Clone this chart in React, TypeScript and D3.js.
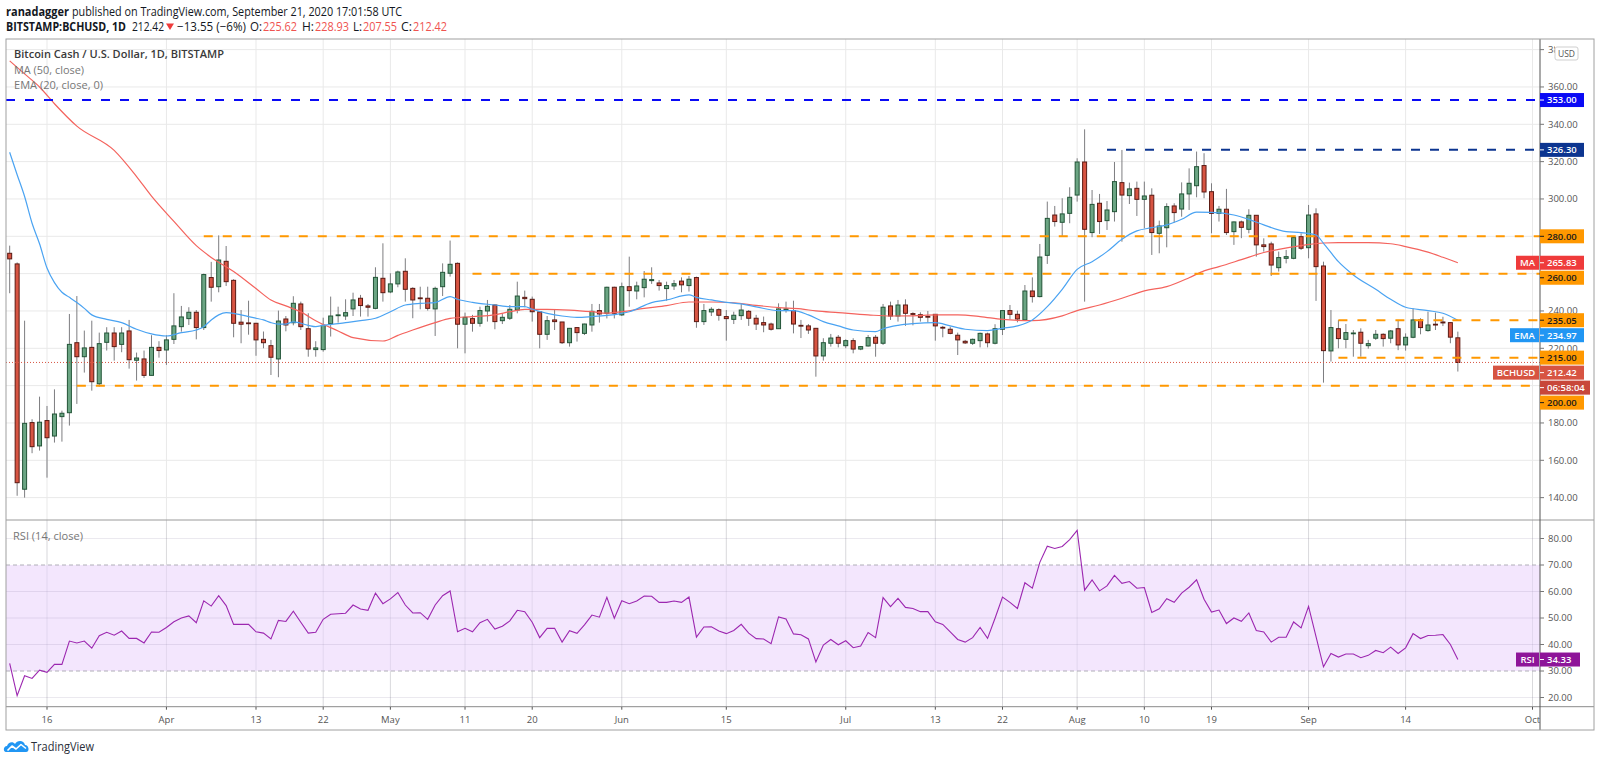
import React from 'react';
import * as d3 from 'd3';

// ---------------- DATA ----------------
const START_DATE = '2020-03-11';
const LAST_PRICE_LABEL = 'BCHUSD';
const COUNTDOWN = '06:58:04';

const opens = [270.9,265.2,144.5,180.2,167.7,181.3,173,183.4,185.5,223,215.5,220.5,201,223.2,228.2,222.1,229.3,213.6,214.3,205.5,220.5,219.1,224.8,231.6,235.9,239.3,231.1,257.9,253,266.6,256.4,234,233.6,233.4,224.8,221.4,214.3,235.7,233.7,243.75,230.5,219.3,219.3,233.2,237.5,237.3,241.1,246.8,242.7,241.4,257.5,250.2,254.5,261.25,252.1,247,246.8,241.1,253,260.2,265.5,232.9,235.9,233.4,240,243.2,234.8,236.1,240.5,247.3,246.25,239.5,227.5,235.2,234.1,223,231.1,228,232.5,240.2,238.75,252.7,237.9,253,250.7,252.5,256.25,255,252,253.4,256,253.6,257.9,234.3,239.5,240.7,237,235.5,237.5,239.8,236.1,233.75,233,230.5,240.5,240.2,232.3,232,230.7,215.9,222.7,225.9,221.4,224.1,219.6,221.25,225.9,222.7,242.7,237.3,243.2,238.6,238,237.1,238.2,231.25,230.2,227,223.75,222.7,224.1,227.7,222.7,230.2,240.2,238.2,235.2,250.7,247.7,269.8,291.4,287.5,292.3,302.1,319.8,282,297.7,288.4,293.2,308.75,301.8,305.7,299.8,302,281.6,284.6,296.25,294.6,302.7,307.1,317.9,303.9,292.3,294.5,282.5,287.7,283.75,291.25,275.4,275.9,263.2,268.2,268.2,279.8,273.9,292,264.1,218.6,230.5,224.8,227.9,228.6,221.4,225.4,227.5,225.4,230.5,221.8,225.9,235.2,229.5,232.9,234.1,233.75,225.62];
const highs = [275,266,234.8,182,194.1,189.1,198,186.6,238.4,248,229.5,234.8,228.4,231.3,231.3,231.3,235.2,217.7,218.8,227,223.8,227,249.5,242.7,242,240.5,260,266.3,280.5,274.8,257,240.5,245.5,233.6,229,224.5,240.2,237.3,247.9,245,238.8,223.8,236.4,247.7,242.3,246.25,249.8,248.6,243.75,263.4,276.25,260.2,261.6,268.2,252.7,253,253,253,265.5,277.7,266,239.1,237.9,242.3,245.9,243.4,238.75,243.2,255.7,250.9,247.7,239.5,237.3,240.5,234.1,230.9,231.1,233.2,243.75,243.75,253,253,255.2,269.1,255.7,261.4,263.4,256.6,255.7,256.6,258,258.75,258.4,243.75,242,241.4,240.5,239.6,243.75,240.5,237.9,237,233.75,244.1,245,245.5,235.2,233,230.9,225.4,227.7,227.1,224.8,225.4,221.25,227.1,227.1,243.75,245,245.9,246.25,239.3,239.3,240,238.2,232,231.6,228.4,224.5,225.2,228.4,228.4,232.9,240.2,243.2,240.2,253.9,258,275.9,298.6,296.25,300.4,306.25,321.8,337.3,304.8,302.7,298.9,319.8,326.25,308.75,309.3,309.3,305.7,288.4,297.7,297.7,308.9,316.4,325.4,324.5,308.4,296.25,305.4,287.9,288.4,294.5,291.25,278.9,277.1,271.8,272.7,279.8,281.6,296.8,295,266.4,240.5,235.2,233,229.8,230.7,224.5,229.8,228,229.8,235.2,228,241.4,236.1,239.6,239.1,236.9,234,228.93];
const lows = [249.5,141,140,163.8,165.2,150.7,169.5,170,178.6,190.2,207,197.3,199.5,218.8,213.4,217.9,209.1,202.7,204.1,205.5,215,211.1,222.3,228.9,232.5,224.8,229.8,245,250,253.4,225.9,222.7,227.3,216,220,205.7,204.5,229.1,232.3,229.8,215.5,215.5,218.2,226.3,233.75,235.2,237.3,237,237,240.9,245,249.5,252.7,245,236.1,240.9,240.2,226.6,248,258.4,220,217.3,228.9,231.6,234.3,230.2,233,235.2,238.75,242,234.3,220,224.5,229.8,222.3,220.9,223.6,227.1,228.9,233.75,236,236,237.3,242.3,246.25,247.3,254.5,250.9,245.5,251.25,250,250.4,231,232.5,237.3,234.8,224.1,233,235.2,232,229.8,228.6,229.5,230.5,239.1,228,225.5,227.7,204.8,213.4,220.9,220.5,220,217.3,219,220.9,215.5,221.8,235.2,234.3,232,232.3,234.3,233.75,224.1,225.9,227.5,216.4,222.3,221.8,220.5,220.5,222.1,227.1,235.5,233.9,235.2,244.5,247.3,265.2,285.2,280.2,287,298.6,245,279.5,281.25,283.4,287.9,277.1,297.3,290.9,284.3,270,270.9,274.1,287.3,290.5,294.1,300.9,300.4,281.6,287.9,280.7,275.4,279,281.6,269.1,271.8,258.75,261.1,265.5,267.7,272.7,268.2,245.4,201.6,212.9,220,220,215.5,215.5,219.8,224.5,220.9,222.7,219,218.75,225.4,227.5,228.9,229.8,231.9,222.7,207.55];
const closes = [267.9,148,179.8,167.3,180.4,172.1,184.8,185.2,222.1,215.5,220.2,202.1,222.5,228.2,220.9,228.2,213.9,214.8,205.5,220.5,218.8,224.5,232,236.8,239.3,231.1,259.5,252.7,267.3,255.7,233.4,232.9,233.2,224.5,223,215.2,234.6,232.5,244.1,231.6,219.6,220.2,232.3,237.3,237.9,239.1,245.9,242.9,242,258,249.8,254.5,260.9,251.6,245.9,246.6,241.4,252.1,260.7,265,232.9,236.6,233.4,240.2,242.5,234.3,236.6,240.9,248,246.6,239.6,227.5,234.8,234.3,223,230.7,228.4,233,239.8,238.4,252.7,238.75,253,250.9,253.4,257,256.8,253.6,253.6,254.6,254,257,234.3,240.2,240.9,237.7,235.9,237.7,240.5,236.1,233,232.5,230.2,241.1,241.1,233,232,229.8,215.9,223,225.5,222.7,224.1,219.6,220.9,225.7,222.7,242,237.3,243.2,238.75,238.2,236.6,236.8,232,230.9,228,224.5,222.9,224.8,228,223,230.5,240.2,238.2,235.7,250.7,247.7,268.9,289.6,287.9,292,300.9,319.8,283.75,297.1,287.9,294.1,309.3,302.1,305.4,299.8,301.6,282,285.5,295.9,292.7,302.7,308.4,317.3,303.75,292.3,294.5,282,287.7,284.8,291.25,275.4,274.5,264.6,268.6,269.1,279.3,273.6,291.4,263.75,218.75,231.1,225.2,228.4,228.2,222.7,222.5,227.5,225.2,229.3,221.8,225.9,235.2,231.1,232.5,232.7,233.6,225.97,212.42];

const rsiValues = [32.9,20.7,28.2,27.2,30.3,29.5,32.5,32.5,41.3,40.6,41.3,38.6,43.3,44.6,43.5,45.1,42.3,42.3,40.6,44.7,44.6,46.4,48.6,50,50.8,48.2,56.5,54.5,58.4,54.7,47.6,47.6,47.6,44.8,44.3,42.1,49.1,48.7,52.6,48.4,44.3,44.6,49.5,51.4,51.6,51.8,54.9,53.4,52.9,59.4,55.4,57.2,59.6,54.9,51.9,52,49.5,54.9,58.4,60.2,44.8,46.1,44.8,48.2,49.5,45.8,46.9,48.9,52.9,52.4,48.4,42.6,46.1,46.1,40.9,45.2,44.2,47.4,51.1,50.3,57.8,49.9,56.5,55.4,56.4,58.3,58.2,55.9,55.9,56.4,55.9,57.9,42.8,46.6,46.7,45.1,44.1,45.3,47.6,44.3,42.2,42.1,40.3,50.4,49.6,44,43.7,42.1,33.4,39.8,41.9,39.9,41.4,38.8,39.4,44.5,42.6,57.7,54.3,57.4,54,53.6,52.4,52.4,48.6,47.6,44.8,41.9,40.9,42.6,46.4,42.3,49.9,57.9,55.9,53.6,63.3,61.25,71,77.1,76.25,77,79.6,83.1,60.5,64.4,60.25,62.1,66.1,63.1,63.75,61.25,61.5,52.1,53.5,57.25,55.9,59.4,61.6,64.4,57.1,52.25,53,47.9,50,48.75,51.9,45.25,44.75,40.9,42.75,42.75,48.5,46.25,54.4,43,31.6,36.6,35.25,36.4,36.4,35,35.9,37.75,36.9,39,36.6,38.75,44.1,42.25,43.4,43.5,43.75,40,34.33];

// MA(50): day offset from START_DATE, value
const maDays = [0,2,4,6,9,14,17,19,22,25,27,30,33,35,37,39,41,44,46,50,52,54,57,59,62,65,67,69,72,75,78,80,82,85,88,91,94,97,100,103,106,108,111,115,118,121,124,127,130,133,137,141,143,146,149,152,155,158,160,162,165,168,170,173,176,178,182,185,187,190,192,194];
const maValues = [374,367,360,351,339,326,312,301.5,288,275,268.7,261.1,252,245.9,242.7,239.5,234.8,229.3,225.7,223.9,226.9,229.8,233.75,236,237,237.9,239.6,240.8,240.9,240.5,239.6,238.8,239.6,241.4,242.9,244.8,244.8,244.4,243,241.8,241.1,240,239.1,237.9,237.3,237.4,237.9,237.9,237,235.5,234.8,237.4,240.2,243.2,246.8,250.8,253,257.8,261.5,263.75,267.5,271.3,273,275,276.4,276.6,276.6,276,274.5,271.5,268.75,265.83];

// EMA(20)
const emaDays = [0,1,2,3,4,5,6,7,8,9,10,11,13,15,17,19,21,23,25,26,27,28,29,30,31,32,33,34,35,36,37,38,40,41,42,44,45,47,49,51,53,55,57,59,60,62,65,67,69,70,72,74,76,78,80,82,83,86,88,91,92,94,96,98,100,103,105,107,109,111,113,116,117,119,121,124,126,128,131,133,135,137,139,141,143,145,147,149,151,153,155,157,159,161,164,166,168,171,173,175,176,178,180,183,185,187,190,192,194];
const emaValues = [325,313,301.3,287,276,263,255.2,250,247.3,244.5,241.4,237.9,235.5,233.75,230.2,227.7,226.6,228.4,229.8,231.6,235.2,237.9,239.1,238.75,237.9,237,236.1,235.2,233.75,233,233,234.2,232.3,231.6,232.3,233.2,233.75,234.8,236.1,239.6,243.2,244.1,244.5,247.7,246.25,244.6,243.2,242.3,242.3,240.9,238.75,237.3,236.6,237,237.6,238.75,239.6,244.5,245.9,248.6,247.3,245.9,244.6,243.75,242.2,240.2,240.2,237.9,234.3,232,229.8,228.9,230.5,232.3,233.2,233.75,232,230.2,229.5,230.7,232,235.2,242.3,251.6,262.3,266.4,271.8,278.4,282.9,284.6,286.1,289.1,292.9,292.8,291.4,289.1,286.1,282.5,282,280.7,276.25,266.4,259.3,251.6,246.25,242,240.2,238.75,234.97];

const priceTicks = [140,160,180,200,220,240,260,280,300,320,340,360,380];
const rsiTicks = [20,30,40,50,60,70,80];
const rsiBand = [30,70];
const timeTickDates = ['2020-03-16','2020-04-01','2020-04-13','2020-04-22','2020-05-01','2020-05-11','2020-05-20','2020-06-01','2020-06-15','2020-07-01','2020-07-13','2020-07-22','2020-08-01','2020-08-10','2020-08-19','2020-09-01','2020-09-14','2020-10-01'];
const timeTickLabels = ['16','Apr','13','22','May','11','20','Jun','15','Jul','13','22','Aug','10','19','Sep','14','Oct'];

// horizontal drawings
const levelValues = [353,326.3,280,260,235.05,215,200];
const levelStarts = ['','2020-08-05','2020-04-06','2020-05-12','2020-09-05','2020-09-05','2020-03-20'];
const levelKinds = ['blue','navy','orange','orange','orange','orange','orange'];

// ---------------- STYLE ----------------
const FONT = "'Open Sans', 'Noto Sans', 'DejaVu Sans', sans-serif";
const UP = '#6ba583', UP_B = '#225437', DN = '#d75442', DN_B = '#5b1a13', WICK = '#7d7d80';
const KIND_COLOR: Record<string, string> = { blue: '#0a0af5', navy: '#0c3590', orange: '#ff9800' };
const GRID = '#e9e9e9';

const parse = d3.utcParse('%Y-%m-%d');

export default function App() {
  const W = 1600, H = 763;
  const L = 6, R = 1540, MT = 39, MB = 520, RB = 706.7, AB = 730, FR = 1594;

  const x = d3.scaleUtc().domain([parse('2020-03-16')!, parse('2020-10-01')!]).range([47, 1532.5]);
  const y = d3.scaleLinear().domain([160, 340]).range([460.3, 124.3]);
  const ry = d3.scaleLinear().domain([30, 70]).range([671, 565]);
  const start = parse(START_DATE)!;
  const dayX = (i: number) => x(d3.utcDay.offset(start, i));

  const candles = opens.map((o, i) => ({ i, o, h: highs[i], l: lows[i], c: closes[i] }));

  const maLine = d3.line<number>().x((_, k) => dayX(maDays[k])).y(v => y(v)).curve(d3.curveMonotoneX)(maValues) || '';
  const emaLine = d3.line<number>().x((_, k) => dayX(emaDays[k])).y(v => y(v)).curve(d3.curveMonotoneX)(emaValues) || '';
  const rsiLine = d3.line<number>().x((_, k) => dayX(k)).y(v => ry(v))(rsiValues) || '';

  const lastClose = closes[closes.length - 1];
  const lastMA = maValues[maValues.length - 1];
  const lastEMA = emaValues[emaValues.length - 1];
  const lastRSI = rsiValues[rsiValues.length - 1];

  // right-axis label boxes, with overlap avoidance
  type Lab = { v: number; text: string; fill: string; txt: string; name?: string; w?: number; nameW?: number; y: number };
  const labs: Lab[] = [];
  levelValues.forEach((v, k) => labs.push({ v, text: v.toFixed(2), fill: KIND_COLOR[levelKinds[k]], txt: levelKinds[k] === 'orange' ? '#1a1a1a' : '#fff', y: y(v) }));
  labs.push({ v: lastMA, text: lastMA.toFixed(2), fill: '#ef3b3b', txt: '#fff', name: 'MA', nameW: 23, y: y(lastMA) });
  labs.push({ v: lastEMA - 0.001, text: lastEMA.toFixed(2), fill: '#2196f3', txt: '#fff', name: 'EMA', nameW: 29, y: y(lastEMA) });
  labs.push({ v: lastClose, text: lastClose.toFixed(2), fill: DN, txt: '#fff', name: LAST_PRICE_LABEL, nameW: 46, y: y(lastClose) });
  labs.push({ v: lastClose - 0.0001, text: COUNTDOWN, fill: '#c8473a', txt: '#fff', w: 50, y: y(lastClose) + 15 });
  labs.sort((a, b) => b.v - a.v);
  for (let k = 1; k < labs.length; k++) {
    if (labs[k].y < labs[k - 1].y + 15) labs[k].y = labs[k - 1].y + 15;
  }
  // tick labels fully hidden behind a label box are not drawn (as on the reference)
  const visibleTicks = priceTicks.filter(p => !labs.some(lb => Math.abs(lb.y - y(p)) < 7.5));

  const tickDates = timeTickDates.map(s => parse(s)!);

  return (
    <div style={{ position: 'absolute', left: 0, top: 0, width: W, height: H, background: '#fff' }}>
      <svg width={W} height={H} style={{ display: 'block', fontFamily: FONT }}>
        <defs>
          <clipPath id="mainClip"><rect x={L} y={MT} width={R - L} height={MB - MT} /></clipPath>
          <clipPath id="rsiClip"><rect x={L} y={MB} width={R - L} height={RB - MB} /></clipPath>
          <clipPath id="timeClip"><rect x={L} y={RB} width={R - L} height={AB - RB} /></clipPath>
          <clipPath id="axisClip"><rect x={R} y={MT} width={FR - R} height={MB - MT} /></clipPath>
          <clipPath id="topTickClip"><rect x={R} y={MT} width={15} height={20} /></clipPath>
        </defs>
        <rect x={0} y={0} width={W} height={H} fill="#fff" />

        {/* header */}
        <text x={6} y={16} fontSize={12} fill="#131722" fontWeight={700} textLength={63} lengthAdjust="spacingAndGlyphs">ranadagger</text>
        <text x={72} y={16} fontSize={12} fill="#131722" textLength={330} lengthAdjust="spacingAndGlyphs">published on TradingView.com, September 21, 2020 17:01:58 UTC</text>
        <text x={6} y={31} fontSize={12} fill="#131722" fontWeight={700} textLength={120} lengthAdjust="spacingAndGlyphs">BITSTAMP:BCHUSD, 1D</text>
        <text x={132} y={31} fontSize={12} fill="#131722" textLength={32} lengthAdjust="spacingAndGlyphs">{lastClose.toFixed(2)}</text>
        <path d="M166,23.5 L174,23.5 L170,30 Z" fill="#ef3b3b" />
        <text x={177} y={31} fontSize={12} fill="#131722" textLength={69} lengthAdjust="spacingAndGlyphs">−13.55 (−6%)</text>
        {[['O:', 250, 12, opens], ['H:', 302, 12, highs], ['L:', 353, 9, lows], ['C:', 401, 11, closes]].map(([lab, xx, lw, arr]: any, k) => (
          <g key={k}>
            <text x={xx} y={31} fontSize={12} fill="#131722" textLength={lw} lengthAdjust="spacingAndGlyphs">{lab}</text>
            <text x={xx + lw + 1} y={31} fontSize={12} fill="#ef5350" textLength={34} lengthAdjust="spacingAndGlyphs">{arr[arr.length - 1].toFixed(2)}</text>
          </g>
        ))}

        {/* grid */}
        {tickDates.map((d, k) => (
          <line key={'vg' + k} x1={x(d)} x2={x(d)} y1={MT} y2={RB} stroke={GRID} strokeWidth={1} />
        ))}
        <g clipPath="url(#mainClip)">
          {priceTicks.map(p => (
            <line key={'hg' + p} x1={L} x2={R} y1={y(p)} y2={y(p)} stroke={GRID} strokeWidth={1} />
          ))}
        </g>

        {/* RSI band + grid */}
        <g clipPath="url(#rsiClip)">
          <rect x={L} y={ry(rsiBand[1])} width={R - L} height={ry(rsiBand[0]) - ry(rsiBand[1])} fill="#f3e6fd" />
          {tickDates.map((d, k) => (
            <line key={'rvg' + k} x1={x(d)} x2={x(d)} y1={MB} y2={RB} stroke="rgba(110,110,130,0.12)" strokeWidth={1} />
          ))}
          {rsiTicks.filter(t => t !== 30 && t !== 70).map(t => (
            <line key={'rg' + t} x1={L} x2={R} y1={ry(t)} y2={ry(t)} stroke="rgba(110,100,140,0.14)" strokeWidth={1} />
          ))}
          {rsiBand.map(t => (
            <line key={'rb' + t} x1={L} x2={R} y1={ry(t)} y2={ry(t)} stroke="#b0aeb8" strokeWidth={1} strokeDasharray="4 3" />
          ))}
          <path d={rsiLine} fill="none" stroke="#9c27b0" strokeWidth={1.1} />
        </g>

        {/* main pane content */}
        <g clipPath="url(#mainClip)">
          {candles.map(cd => {
            const cx = dayX(cd.i);
            const up = cd.c >= cd.o;
            const top = y(Math.max(cd.o, cd.c));
            const bot = y(Math.min(cd.o, cd.c));
            return (
              <g key={'c' + cd.i}>
                <line x1={cx} x2={cx} y1={y(cd.h)} y2={y(cd.l)} stroke={WICK} strokeWidth={1} />
                <rect x={cx - 2} y={top} width={4} height={Math.max(bot - top, 0.8)} fill={up ? UP : DN} stroke={up ? UP_B : DN_B} strokeWidth={1} />
              </g>
            );
          })}
          <path d={maLine} fill="none" stroke="#f4635d" strokeWidth={1.2} />
          <path d={emaLine} fill="none" stroke="#4aa3f2" strokeWidth={1.2} />
          {levelValues.map((v, k) => {
            const x0 = levelStarts[k] ? x(parse(levelStarts[k])!) : L;
            return <line key={'lv' + k} x1={x0} x2={R} y1={y(v)} y2={y(v)} stroke={KIND_COLOR[levelKinds[k]]} strokeWidth={2} strokeDasharray="9 10" />;
          })}
          <line x1={L} x2={R} y1={y(lastClose)} y2={y(lastClose)} stroke={DN} strokeWidth={1} strokeDasharray="1 2" />
        </g>

        {/* legends */}
        <text x={14} y={58} fontSize={11.5} fontWeight={600} fill="#3a3a3a" textLength={210} lengthAdjust="spacingAndGlyphs">Bitcoin Cash / U.S. Dollar, 1D, BITSTAMP</text>
        <text x={14} y={74} fontSize={11.5} fill="#777" textLength={70} lengthAdjust="spacingAndGlyphs">MA (50, close)</text>
        <text x={14} y={89} fontSize={11.5} fill="#777" textLength={89} lengthAdjust="spacingAndGlyphs">EMA (20, close, 0)</text>
        <text x={13} y={540} fontSize={11.5} fill="#777" textLength={70} lengthAdjust="spacingAndGlyphs">RSI (14, close)</text>

        {/* frames */}
        <line x1={L} x2={FR} y1={MB} y2={MB} stroke="#9a9a9a" strokeWidth={1} />
        <line x1={L} x2={FR} y1={RB} y2={RB} stroke="#8a8a8a" strokeWidth={1} />
        <line x1={R} x2={R} y1={MT} y2={AB} stroke="#555" strokeWidth={1} />
        <rect x={L} y={MT} width={FR - L} height={AB - MT} fill="none" stroke="#a0a0a0" strokeWidth={1} />

        {/* price axis */}
        <g clipPath="url(#axisClip)">
          {priceTicks.map(p => (
            <line key={'ptl' + p} x1={R} x2={R + 4} y1={y(p)} y2={y(p)} stroke="#777" />
          ))}
          {visibleTicks.filter(p => p !== 380).map(p => (
            <text key={'pt' + p} x={R + 8} y={y(p) + 3.3} fontSize={9.5} fill="#555">{p.toFixed(2)}</text>
          ))}
        </g>
        {/* top tick label, mostly covered by the currency badge */}
        <g clipPath="url(#topTickClip)">
          {visibleTicks.filter(p => p === 380).map(p => (
            <text key={'pt' + p} x={R + 8} y={y(p) + 3.3} fontSize={9.5} fill="#555">{p.toFixed(2)}</text>
          ))}
        </g>
        <rect x={1555} y={47} width={23} height={13} rx={2} fill="#fff" stroke="#cfcfcf" />
        <text x={1566.5} y={56.5} fontSize={8.5} fill="#555" textAnchor="middle">USD</text>

        {labs.map((lb, k) => {
          const w = lb.w || 44;
          return (
            <g key={'lb' + k}>
              {lb.name && (
                <g>
                  <rect x={R - 1 - (lb.nameW || 30)} y={lb.y - 7} width={lb.nameW || 30} height={14} fill={lb.fill} />
                  <text x={R - 1 - (lb.nameW || 30) / 2} y={lb.y + 3.4} fontSize={9.5} fontWeight={600} fill="#fff" textAnchor="middle">{lb.name}</text>
                </g>
              )}
              <rect x={R} y={lb.y - 7} width={w} height={14} fill={lb.fill} />
              <line x1={R} x2={R + 4} y1={lb.y} y2={lb.y} stroke={lb.txt} strokeWidth={1} />
              <text x={R + 7} y={lb.y + 3.4} fontSize={9.5} fontWeight={600} fill={lb.txt}>{lb.text}</text>
            </g>
          );
        })}

        {/* RSI axis */}
        {rsiTicks.map(t => (
          <g key={'rt' + t}>
            <line x1={R} x2={R + 4} y1={ry(t)} y2={ry(t)} stroke="#777" />
            <text x={R + 8} y={ry(t) + 3.3} fontSize={9.5} fill="#555">{t.toFixed(2)}</text>
          </g>
        ))}
        <rect x={R - 24} y={ry(lastRSI) - 7} width={23} height={14} fill="#8e1599" />
        <text x={R - 12.5} y={ry(lastRSI) + 3.4} fontSize={9.5} fontWeight={600} fill="#fff" textAnchor="middle">RSI</text>
        <rect x={R} y={ry(lastRSI) - 7} width={40} height={14} fill="#8e1599" />
        <line x1={R} x2={R + 4} y1={ry(lastRSI)} y2={ry(lastRSI)} stroke="#fff" />
        <text x={R + 7} y={ry(lastRSI) + 3.4} fontSize={9.5} fontWeight={600} fill="#fff">{lastRSI.toFixed(2)}</text>

        {/* time axis */}
        <g clipPath="url(#timeClip)">
          {tickDates.map((d, k) => (
            <g key={'tt' + k}>
              <line x1={x(d)} x2={x(d)} y1={RB} y2={RB + 3} stroke="#555" />
              <text x={x(d)} y={722.5} fontSize={9.5} fill="#555" textAnchor="middle">{timeTickLabels[k]}</text>
            </g>
          ))}
        </g>

        {/* logo */}
        <g>
          <path d="M6,752 C3,752 3,746 7,746 C8,742 13,741 15,744 C17,740 24,740 25,745 C29,745 30,752 26,752 Z" fill="#2196f3" />
          <polyline points="7.5,750.5 12,746 16,749 21,744.5 26,748.5" fill="none" stroke="#fff" strokeWidth={1.6} strokeLinejoin="round" />
          <text x={31} y={750.5} fontSize={12.5} fill="#2a2e39" textLength={63} lengthAdjust="spacingAndGlyphs">TradingView</text>
        </g>
      </svg>
    </div>
  );
}
